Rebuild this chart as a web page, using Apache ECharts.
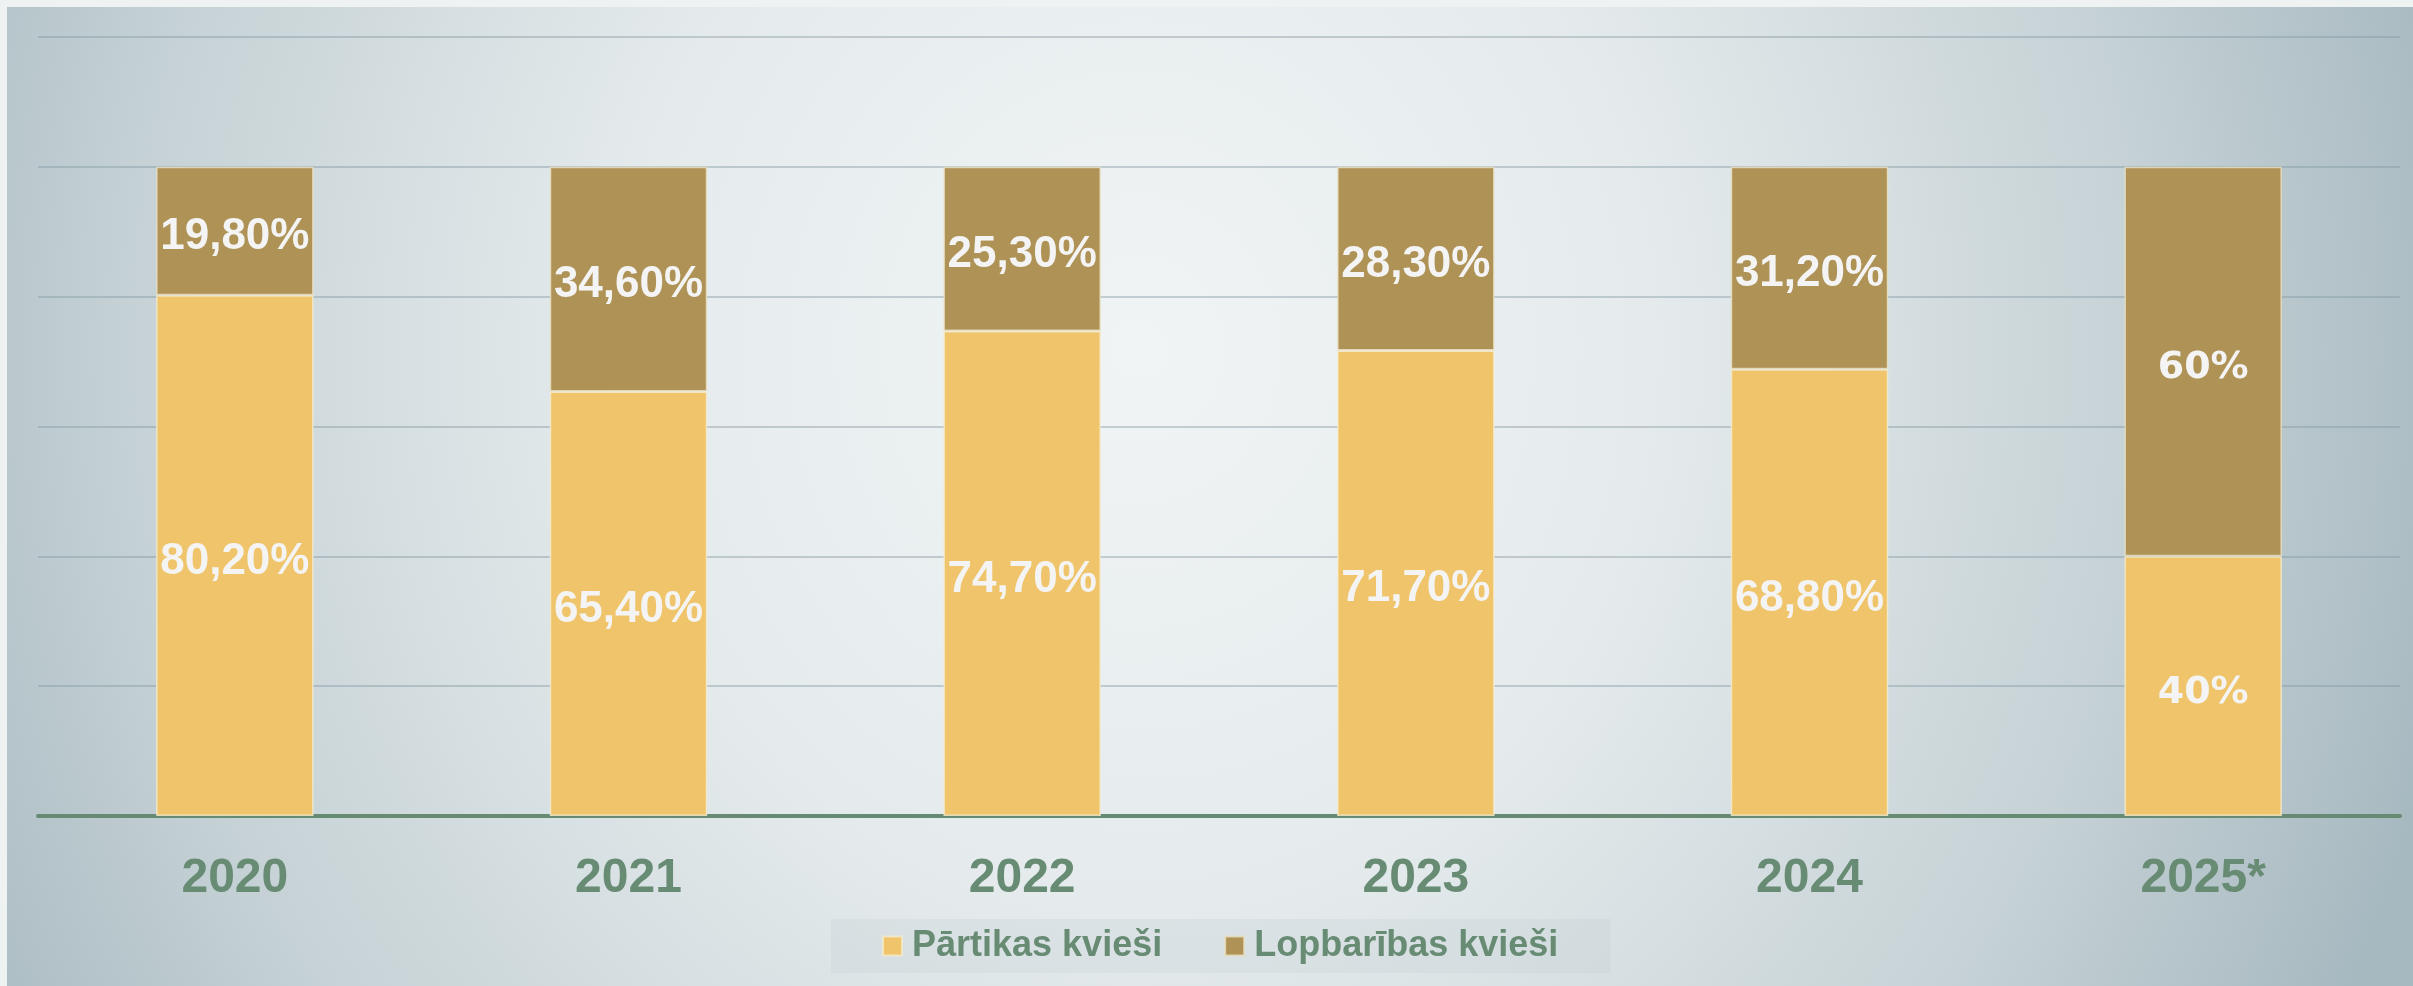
<!DOCTYPE html>
<html>
<head>
<meta charset="utf-8">
<script src="https://cdn.jsdelivr.net/npm/echarts@6/dist/echarts.min.js"></script>
<style>
  html, body { margin: 0; padding: 0; background: #eef2f2; overflow: hidden; }
  #chart {
    position: absolute; left: 7px; top: 7px; width: 2406px; height: 979px;
    background: radial-gradient(ellipse 56% 150% at 47% 35%, #f0f4f5 0%, #e5ebed 38%, #c6d2d6 74%, #a7b9c0 100%);
  }
</style>
</head>
<body>
<div id="chart"></div>
<script>
var years = ['2020', '2021', '2022', '2023', '2024', '2025*'];
var partikas = [80.2, 65.4, 74.7, 71.7, 68.8, 40];
var lopbaribas = [19.8, 34.6, 25.3, 28.3, 31.2, 60];
var seriesNames = ['Pārtikas kvieši', 'Lopbarības kvieši'];

var green = '#688b74';

function fmt(v) {
    if (Number.isInteger(v)) return v + '%';
    return v.toFixed(2).replace('.', ',') + '%';
}

// 2025 prognoze ir ar citu fontu
function toData(arr) {
    return arr.map(function (v) {
        if (Number.isInteger(v)) {
            return { value: v, label: { fontFamily: 'DejaVu Sans', fontSize: 38, offset: [0, 7] } };
        }
        return v;
    });
}

var myChart = echarts.init(document.getElementById('chart'), null, {renderer: 'canvas'});

var barLabel = {
    show: true, position: 'inside', color: '#f4f4f4',
    fontFamily: 'Liberation Sans, Arial, sans-serif',
    fontSize: 44, fontWeight: 'bold', offset: [0, 6],
    formatter: function (p) { return fmt(p.value); }
};

var option = {
    backgroundColor: 'transparent',
    animation: false,
    textStyle: { fontFamily: 'Liberation Sans, Arial, sans-serif' },
    grid: { left: 31, right: 13, top: 30, bottom: 170 },
    legend: {
        data: seriesNames,
        left: 824,
        top: 912,
        itemWidth: 19,
        itemHeight: 19,
        itemGap: 62,
        padding: [8, 52, 8, 51],
        backgroundColor: 'rgba(190,203,207,0.25)',
        textStyle: { color: green, fontSize: 36, fontWeight: 'bold', lineHeight: 38, padding: [0, 0, 0, 5] },
        icon: 'rect'
    },
    xAxis: {
        type: 'category',
        data: years,
        axisTick: { show: false },
        axisLine: { lineStyle: { color: '#678a73', width: 4 } },
        axisLabel: { color: green, fontSize: 48, fontWeight: 'bold', margin: 39 }
    },
    yAxis: {
        type: 'value',
        min: 0,
        max: 120,
        interval: 20,
        axisLabel: { show: false },
        axisLine: { show: false },
        axisTick: { show: false },
        splitLine: { lineStyle: { color: 'rgba(130,152,160,0.55)', width: 1.5 } }
    },
    series: [
        {
            name: seriesNames[0],
            type: 'bar',
            stack: 'total',
            barWidth: '40%',
            data: toData(partikas),
            itemStyle: { color: '#efc46b', borderColor: 'rgba(245,235,205,0.8)', borderWidth: 1.5 },
            label: barLabel
        },
        {
            name: seriesNames[1],
            type: 'bar',
            stack: 'total',
            barWidth: '40%',
            data: toData(lopbaribas),
            itemStyle: { color: '#ae9256', borderColor: 'rgba(235,225,195,0.8)', borderWidth: 1.5 },
            label: barLabel
        }
    ]
};

myChart.setOption(option);
</script>
</body>
</html>
